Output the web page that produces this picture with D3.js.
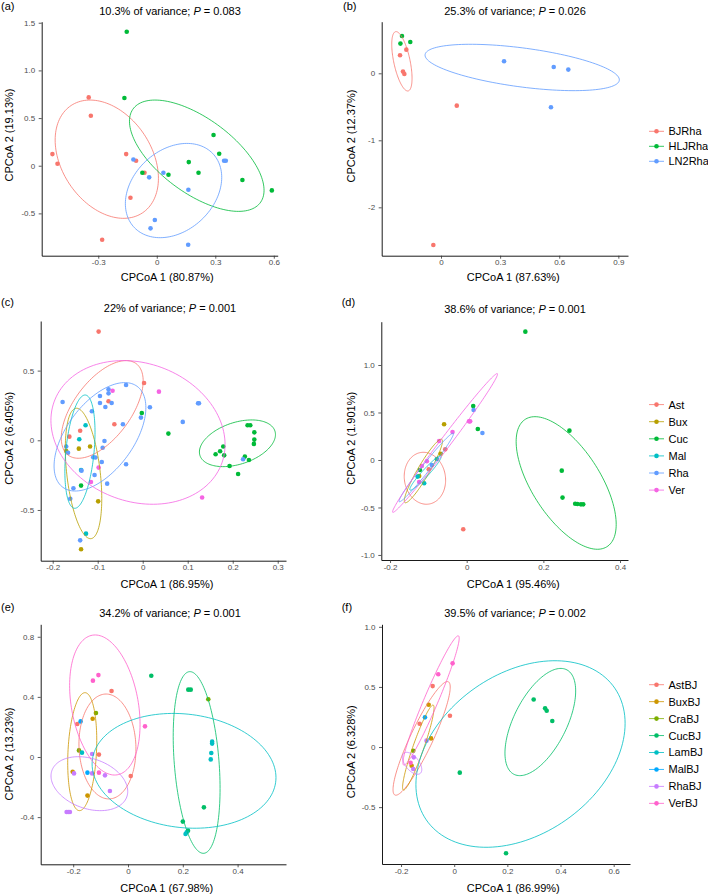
<!DOCTYPE html>
<html>
<head>
<meta charset="utf-8">
<script src="https://cdnjs.cloudflare.com/ajax/libs/d3/7.8.5/d3.min.js"></script>
<style>
body{margin:0;background:#fff;}
svg{font-family:"Liberation Sans",Arial,Helvetica,sans-serif;}
</style>
</head>
<body>
<div class="c_fig"></div>
<script>
/* DATA
------------------------------------------------------ */

const varianceExplained = ["10.3%", "25.3%", "22%", "38.6%", "34.2%", "39.5%"];
const pValues = ["0.083", "0.026", "0.001", "0.001", "0.001", "0.002"];
const axis1Pct = ["80.87%", "87.63%", "86.95%", "95.46%", "67.98%", "86.99%"];
const axis2Pct = ["19.13%", "12.37%", "6.405%", "1.901%", "13.23%", "6.328%"];

const groupsAB = ["BJRha", "HLJRha", "LN2Rha"];
const groupsCD = ["Ast", "Bux", "Cuc", "Mal", "Rha", "Ver"];
const groupsEF = ["AstBJ", "BuxBJ", "CraBJ", "CucBJ", "LamBJ", "MalBJ", "RhaBJ", "VerBJ"];

// axis domains (data units at the ends of the axis lines)
const xDomains = [[-0.590, 0.620], [-0.301, 0.949], [-0.2267, 0.3184], [-0.2228, 0.4208], [-0.3186, 0.5766], [-0.2716, 0.6614]];
const yDomains = [[-0.944, 1.511], [-2.722, 0.770], [-0.864, 0.856], [-1.053, 1.456], [-0.714, 0.883], [-0.973, 1.021]];

const xTicks = [[-0.3, 0, 0.3, 0.6], [0, 0.3, 0.6, 0.9], [-0.2, -0.1, 0, 0.1, 0.2, 0.3], [-0.2, 0, 0.2, 0.4], [-0.2, 0, 0.2, 0.4], [-0.2, 0, 0.2, 0.4, 0.6]];
const xTickLabels = [["-0.3", "0", "0.3", "0.6"], ["0", "0.3", "0.6", "0.9"], ["-0.2", "-0.1", "0", "0.1", "0.2", "0.3"], ["-0.2", "0", "0.2", "0.4"], ["-0.2", "0", "0.2", "0.4"], ["-0.2", "0", "0.2", "0.4", "0.6"]];
const yTicks = [[-0.5, 0, 0.5, 1, 1.5], [-2, -1, 0], [-0.5, 0, 0.5], [-1, -0.5, 0, 0.5, 1], [-0.4, 0, 0.4, 0.8], [-0.5, 0, 0.5, 1]];
const yTickLabels = [["-0.5", "0", "0.5", "1.0", "1.5"], ["-2", "-1", "0"], ["-0.5", "0", "0.5"], ["-1.0", "-0.5", "0", "0.5", "1.0"], ["-0.4", "0", "0.4", "0.8"], ["-0.5", "0", "0.5", "1.0"]];

// points: [group index, CPCoA1, CPCoA2]
const pointsA = [
  [0,-0.349,0.717],[0,-0.338,0.524],[0,-0.535,0.122],[0,-0.509,0.021],[0,-0.157,0.122],[0,-0.106,0.052],[0,-0.063,-0.073],[0,-0.135,-0.336],[0,-0.280,-0.776],
  [1,-0.154,1.406],[1,-0.166,0.710],[1,-0.074,-0.073],[1,0.060,-0.094],[1,0.164,0.038],[1,0.214,-0.073],[1,0.291,0.322],[1,0.320,0.126],[1,0.439,-0.150],[1,0.590,-0.259],
  [2,-0.120,0.066],[2,-0.039,-0.122],[2,0.034,-0.073],[2,0.162,-0.252],[2,0.345,0.052],[2,0.354,0.052],[2,-0.010,-0.570],[2,-0.032,-0.657],[2,0.161,-0.829]
];
const pointsB = [
  [0,-0.176,0.353],[0,-0.208,0.269],[0,-0.193,0.025],[0,-0.186,-0.010],[0,0.080,-0.483],[0,-0.039,-2.562],
  [1,-0.198,0.557],[1,-0.206,0.443],[1,-0.156,0.468],
  [2,0.320,0.179],[2,0.572,0.095],[2,0.646,0.055],[2,0.558,-0.507]
];
const pointsC = [
  [0,-0.098,0.780],[0,0.003,0.411],[0,-0.076,0.280],[0,-0.063,0.115],[0,-0.139,0.069],[0,-0.163,0.026],
  [1,-0.142,-0.060],[1,-0.117,-0.045],[1,-0.099,-0.438],[1,-0.137,-0.782],[1,-0.170,-0.077],
  [2,-0.002,0.196],[2,0.057,0.048],[2,-0.137,-0.325],[2,0.233,0.108],[2,0.239,0.108],[2,0.248,0.057],[2,0.248,0.005],[2,0.247,-0.026],[2,0.179,-0.045],[2,0.172,-0.079],[2,0.162,-0.100],[2,0.181,-0.108],[2,0.193,-0.184],[2,0.212,-0.242],[2,0.227,-0.117],[2,0.236,-0.141],
  [3,-0.127,0.108],[3,-0.141,0.007],[3,-0.137,-0.213],[3,-0.126,-0.670],
  [4,-0.178,0.275],[4,-0.113,0.208],[4,-0.095,0.318],[4,-0.076,0.337],[4,-0.076,0.366],[4,-0.095,0.268],[4,-0.069,0.268],[4,-0.083,0.239],[4,-0.037,0.397],[4,-0.044,0.115],[4,-0.004,0.163],[4,0.016,0.237],[4,0.089,0.132],[4,0.123,0.266],[4,0.125,0.266],[4,-0.085,-0.005],[4,-0.089,-0.053],[4,-0.110,-0.122],[4,-0.105,-0.124],[4,-0.091,-0.156],[4,-0.037,-0.172],[4,-0.136,-0.218],[4,-0.107,-0.249],[4,-0.079,-0.311],[4,-0.154,-0.344],[4,-0.161,-0.419],[4,-0.139,-0.718],[4,-0.170,-0.045],[4,-0.166,-0.089],[4,0.223,-0.136],
  [5,-0.067,0.356],[5,0.036,0.349],[5,-0.098,-0.196],[5,-0.115,-0.299],[5,0.132,-0.411]
];
const pointsD = [
  [0,-0.056,0.112],[0,-0.099,-0.098],[0,-0.009,-0.730],
  [1,-0.059,0.376],[1,-0.068,0.066],[1,-0.124,-0.168],
  [2,0.153,1.351],[2,0.268,0.309],[2,0.248,-0.112],[2,0.250,-0.396],[2,0.283,-0.460],[2,0.289,-0.463],[2,0.298,-0.467],[2,0.304,-0.467],[2,0.017,0.568],[2,0.029,0.326],[2,-0.122,-0.105],
  [3,-0.078,0.010],[3,-0.128,-0.175],[3,-0.111,-0.245],
  [4,0.018,0.526],[4,0.041,0.284],[4,-0.091,-0.053],
  [5,0.006,0.407],[5,0.009,0.407],[5,-0.037,0.295],[5,-0.072,0.200],[5,-0.104,-0.014],[5,-0.117,-0.063],[5,-0.124,-0.232]
];
const pointsE = [
  [0,-0.060,0.439],[0,-0.185,0.220],[0,-0.106,0.016],[0,0.010,-0.126],
  [1,-0.129,0.255],[1,-0.202,-0.098],[1,-0.148,-0.257],
  [2,0.293,0.384],[2,-0.117,0.293],[2,-0.179,0.044],
  [3,0.085,0.541],[3,0.220,0.448],[3,0.229,0.448],[3,0.277,-0.335],[3,0.200,-0.430],[3,0.219,-0.490],
  [4,0.307,0.102],[4,0.307,0.089],[4,0.304,0.027],[4,0.302,-0.016],[4,0.210,-0.512],[4,0.214,-0.501],[4,-0.168,0.029],
  [5,-0.173,0.237],[5,-0.148,-0.104],
  [6,-0.131,0.020],[6,-0.197,-0.109],[6,-0.131,-0.109],[6,-0.084,-0.122],[6,-0.066,-0.226],[6,-0.224,-0.366],[6,-0.218,-0.366],[6,-0.212,-0.366],
  [7,-0.108,0.545],[7,-0.128,0.508],[7,0.062,0.204],[7,-0.106,-0.104]
];
const pointsF = [
  [0,-0.081,0.507],[0,-0.016,0.260],[0,-0.130,0.194],
  [1,-0.096,0.352],[1,-0.087,0.072],[1,-0.160,-0.156],
  [2,-0.154,-0.031],
  [3,0.299,0.396],[3,0.342,0.322],[3,0.348,0.302],[3,0.369,0.216],[3,0.021,-0.213],[3,0.195,-0.884],
  [5,-0.110,0.247],
  [6,-0.104,0.053],[6,-0.152,-0.086],[6,-0.154,-0.183],
  [7,-0.006,0.696],[7,-0.060,0.605],[7,-0.164,-0.131]
];

// ellipses: [group, "box", xmin, xmax, ymin, ymax, x at top]  or  [group, "axis", x1, y1, x2, y2, minor/major ratio]
const ellipsesA = [
  [0,"box",-0.521,0.0085,-0.552,0.689,-0.342],
  [1,"box",-0.140,0.550,-0.479,0.689,-0.009],
  [2,"box",-0.161,0.333,-0.755,0.234,0.155]
];
const ellipsesB = [
  [0,"box",-0.250,-0.147,-0.264,0.622,-0.228],
  [2,"box",-0.081,0.905,-0.259,0.433,0.150]
];
const ellipsesC = [
  [0,"box",-0.181,0.001,-0.129,0.572,-0.037],
  [1,"box",-0.172,-0.091,-0.706,0.230,-0.147],
  [2,"box",0.126,0.295,-0.189,0.146,0.242],
  [3,"box",-0.173,-0.106,-0.488,0.325,-0.128],
  [4,"box",-0.197,0.007,-0.364,0.414,-0.040],
  [5,"box",-0.204,0.183,-0.459,0.572,-0.043]
];
const ellipsesD = [
  [0,"box",-0.163,-0.055,-0.466,0.081,-0.113],
  [1,"axis",-0.161,-0.449,-0.065,0.218,0.16],
  [2,"box",0.129,0.390,-0.940,0.456,0.178],
  [3,"axis",-0.148,-0.316,-0.067,0.042,0.15],
  [4,"axis",-0.176,-0.439,-0.035,0.281,0.09],
  [5,"axis",-0.193,-0.551,0.080,0.909,0.06]
];
const ellipsesE = [
  [0,"box",-0.179,0.029,-0.279,0.419,-0.080],
  [1,"box",-0.220,-0.114,-0.357,0.428,-0.157],
  [3,"box",0.165,0.336,-0.641,0.568,0.226],
  [4,"box",-0.131,0.540,-0.474,0.290,0.165],
  [6,"box",-0.281,-0.001,-0.357,0.002,-0.181],
  [7,"box",-0.213,0.044,-0.120,0.812,-0.120]
];
const ellipsesF = [
  [0,"axis",-0.223,-0.399,-0.022,0.543,0.18],
  [1,"axis",-0.191,-0.358,-0.079,0.349,0.12],
  [3,"box",0.191,0.457,-0.238,0.654,0.401],
  [4,"box",-0.144,0.643,-0.834,0.718,0.379],
  [6,"box",-0.195,-0.122,-0.227,-0.044,-0.179],
  [7,"axis",-0.190,-0.150,0.016,0.925,0.10]
];

/* STYLE, LAYOUT
------------------------------------------------------ */

const colors3 = ["#F8766D", "#00BA38", "#619CFF"];
const colors6 = ["#F8766D", "#B79F00", "#00BA38", "#00BFC4", "#619CFF", "#F564E3"];
const colors8 = ["#F8766D", "#CD9600", "#7CAE00", "#00BE67", "#00BFC4", "#00A9FF", "#C77CFF", "#FF61CC"];

const panels = [
  {tag:"(a)", box:[41.7,21.7,277.7,255.7], lab:[1,10], title:[170,15.3], xt:[167.2,280.7], yt:[13.3,135], pts:pointsA, ells:ellipsesA, col:colors3},
  {tag:"(b)", box:[381.7,21.7,628,255.7], lab:[343,10], title:[515,15.3], xt:[513.3,280.7], yt:[355,136], pts:pointsB, ells:ellipsesB, col:colors3},
  {tag:"(c)", box:[40.7,321,286,560.7], lab:[1,305.5], title:[170,312.3], xt:[167,587.5], yt:[13.3,438.3], pts:pointsC, ells:ellipsesC, col:colors6},
  {tag:"(d)", box:[381.3,321.7,628,560], lab:[341.7,306], title:[515,312.7], xt:[513.3,587.5], yt:[355,438.3], pts:pointsD, ells:ellipsesD, col:colors6},
  {tag:"(e)", box:[40.7,624.3,286,864.3], lab:[1,611], title:[170,617.3], xt:[166.7,891.5], yt:[13.3,754], pts:pointsE, ells:ellipsesE, col:colors8},
  {tag:"(f)", box:[382,624.3,630,864], lab:[341.7,610.5], title:[515,617.3], xt:[513.3,891.5], yt:[355,751.7], pts:pointsF, ells:ellipsesF, col:colors8}
];

const legends = [
  {groups:groupsAB, col:colors3, x:649, y0:131.3, dy:15},
  {groups:groupsCD, col:colors6, x:649, y0:404.6, dy:17.1},
  {groups:groupsEF, col:colors8, x:649, y0:684.7, dy:16.95}
];

/*SVG
------------------------------------------------------ */

let svg = d3.select(".c_fig")
  .append("svg")
  .attr("width", 708)
  .attr("height", 895);

function ellipsePoints(e, x, y){
  let out = [];
  const n = 140;
  if(e[1] === "box"){
    const X0 = x(e[2]), X1 = x(e[3]), Yb = y(e[4]), Yt = y(e[5]);
    const cx = (X0 + X1)/2, cy = (Yt + Yb)/2, hw = (X1 - X0)/2, hh = (Yb - Yt)/2;
    const r = -(x(e[6]) - cx) * hh / hw;
    const k = Math.sqrt(Math.max(hh*hh - r*r, 0.5));
    for(let i = 0; i < n; i++){
      const t = i / n * 2 * Math.PI;
      out.push([cx + hw*Math.cos(t), cy + r*Math.cos(t) + k*Math.sin(t)]);
    }
  } else {
    const P1 = [x(e[2]), y(e[3])], P2 = [x(e[4]), y(e[5])];
    const cx = (P1[0] + P2[0])/2, cy = (P1[1] + P2[1])/2;
    const a = Math.hypot(P2[0] - P1[0], P2[1] - P1[1])/2, b = a * e[6];
    const th = Math.atan2(P2[1] - P1[1], P2[0] - P1[0]);
    for(let i = 0; i < n; i++){
      const t = i / n * 2 * Math.PI;
      out.push([cx + a*Math.cos(th)*Math.cos(t) - b*Math.sin(th)*Math.sin(t),
                cy + a*Math.sin(th)*Math.cos(t) + b*Math.cos(th)*Math.sin(t)]);
    }
  }
  return out;
}

const line = d3.line().curve(d3.curveLinearClosed);

panels.forEach(function(p, i){
  const [L, T, R, B] = p.box;
  const x = d3.scaleLinear().domain(xDomains[i]).range([L, R]);
  const y = d3.scaleLinear().domain(yDomains[i]).range([B, T]);
  const g = svg.append("g");

  // points
  g.selectAll("circle")
    .data(p.pts)
    .enter()
    .append("circle")
    .attr("cx", d => x(d[1]))
    .attr("cy", d => y(d[2]))
    .attr("r", 2.3)
    .attr("fill", d => p.col[d[0]]);

  // ellipses
  g.selectAll("path.ell")
    .data(p.ells)
    .enter()
    .append("path")
    .attr("class", "ell")
    .attr("d", d => line(ellipsePoints(d, x, y)))
    .attr("fill", "none")
    .attr("stroke", d => p.col[d[0]])
    .attr("stroke-width", 0.8);

  // axes
  const xl = xTickLabels[i], yl = yTickLabels[i];
  const gx = g.append("g")
    .attr("transform", "translate(0," + B + ")")
    .call(d3.axisBottom(x).tickValues(xTicks[i]).tickFormat((d, j) => xl[j]).tickSize(3).tickSizeOuter(0).tickPadding(1));
  const gy = g.append("g")
    .attr("transform", "translate(" + L + ",0)")
    .call(d3.axisLeft(y).tickValues(yTicks[i]).tickFormat((d, j) => yl[j]).tickSize(3).tickSizeOuter(0).tickPadding(3.5));
  [gx, gy].forEach(function(a){
    a.select(".domain").attr("stroke", "#000").attr("stroke-width", 0.9);
    a.selectAll(".tick line").attr("stroke", "#333").attr("stroke-width", 0.8);
    a.selectAll(".tick text").attr("fill", "#4D4D4D").style("font-size", "8px").style("font-family", "'Liberation Sans',Arial,sans-serif");
  });

  // texts
  g.append("text")
    .attr("x", p.lab[0]).attr("y", p.lab[1])
    .style("font-size", "11px")
    .text(p.tag);

  const t = g.append("text")
    .attr("x", p.title[0]).attr("y", p.title[1])
    .attr("text-anchor", "middle")
    .style("font-size", "11px");
  t.append("tspan").text(varianceExplained[i] + " of variance; ");
  t.append("tspan").style("font-style", "italic").text("P");
  t.append("tspan").text(" = " + pValues[i]);

  g.append("text")
    .attr("x", p.xt[0]).attr("y", p.xt[1])
    .attr("text-anchor", "middle")
    .style("font-size", "11px")
    .text("CPCoA 1 (" + axis1Pct[i] + ")");

  g.append("text")
    .attr("transform", "translate(" + p.yt[0] + "," + p.yt[1] + ") rotate(-90)")
    .attr("text-anchor", "middle")
    .style("font-size", "11px")
    .text("CPCoA 2 (" + axis2Pct[i] + ")");
});

/*LEGENDS
------------------------------------------------------ */

legends.forEach(function(lg){
  const items = svg.append("g")
    .selectAll("g")
    .data(lg.groups)
    .enter()
    .append("g")
    .attr("transform", (d, j) => "translate(" + lg.x + "," + (lg.y0 + j*lg.dy) + ")");
  items.append("line")
    .attr("x1", 0).attr("x2", 15)
    .attr("stroke", (d, j) => lg.col[j])
    .attr("stroke-width", 0.8);
  items.append("circle")
    .attr("cx", 7.5).attr("r", 2.3)
    .attr("fill", (d, j) => lg.col[j]);
  items.append("text")
    .attr("x", 19.5).attr("dy", "0.36em")
    .style("font-size", "11px")
    .text(d => d);
});
</script>
</body>
</html>
